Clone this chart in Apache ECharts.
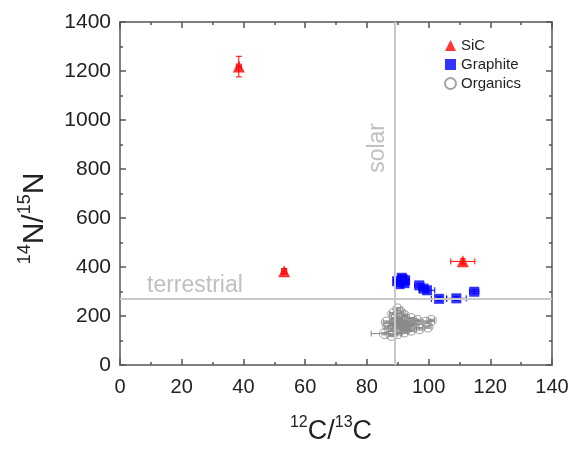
<!DOCTYPE html>
<html>
<head>
<meta charset="utf-8">
<title>N vs C isotope ratios</title>
<script src="https://cdn.jsdelivr.net/npm/echarts@6/dist/echarts.min.js"></script>
<style>
  html, body { margin: 0; padding: 0; background: #fff; }
  #container { width: 574px; height: 450px; }
</style>
</head>
<body>
<div id="container"></div>
<script type="text/javascript">
// SiC grains
var sicX    = [38.5, 53.2, 111.1];
var sicY    = [1218, 383, 423];
var sicXErr = [0.8, 0.8, 3.9];
var sicYErr = [42, 10, 10];

// graphite grains
var graphiteX    = [89.8, 91.3, 92.4, 90.6, 91.6, 92.2, 97.0, 98.4, 99.5, 103.4, 109.0, 114.8];
var graphiteY    = [342, 356, 346, 330, 350, 334, 325, 312, 305, 270, 272, 299];
var graphiteXErr = [1.2, 1.2, 1.2, 1.2, 1.2, 1.2, 1.5, 1.5, 2.5, 2.5, 3.2, 1.5];
var graphiteYErr = [8, 8, 8, 8, 8, 8, 8, 8, 8, 8, 8, 8];

// organics
var organicsX    = [90.0, 88.4, 92.2, 86.3, 86.8, 94.4, 96.5, 99.2, 100.9, 99.8, 85.7, 87.9, 90.0, 92.2, 94.4, 97.1, 89.5, 91.1, 90.6, 89.0, 92.8, 87.9, 91.7, 94.4, 91.0,
                    90.2, 91.4, 92.6, 89.2, 90.4, 93.4, 88.6, 91.8, 95.6, 93.0];
var organicsY    = [229, 209, 202, 175, 155, 189, 182, 175, 182, 155, 128, 121, 128, 135, 142, 148, 169, 169, 189, 189, 162, 142, 148, 162, 215,
                    178, 182, 176, 160, 152, 172, 168, 158, 170, 150];
var organicsXErr = [1, 1, 1, 1, 1, 1, 1, 1, 1, 1, 4.3, 1, 1, 1, 1, 1, 1, 1, 1, 1, 1, 1, 1, 1, 1,
                    1, 1, 1, 1, 1, 1, 1, 1, 1, 1];
var organicsYErr = [5, 5, 5, 5, 5, 5, 5, 5, 5, 5, 5, 5, 5, 5, 5, 5, 5, 5, 5, 5, 5, 5, 5, 5, 5,
                    5, 5, 5, 5, 5, 5, 5, 5, 5, 5];

// reference values
var solarC = 89;
var terrestrialN = 272;

var xTicks = [0, 20, 40, 60, 80, 100, 120, 140];
var yTicks = [0, 200, 400, 600, 800, 1000, 1200, 1400];

var FONT = 'Liberation Sans';
var AXIS_COLOR = '#555';

function pts(xs, ys) {
    return xs.map(function (x, i) { return [x, ys[i]]; });
}
function errRows(xs, ys, xe, ye) {
    return xs.map(function (x, i) { return [x, ys[i], xe[i], ye[i]]; });
}

function errorBars(name, rows, color) {
    return {
        name: name,
        type: 'custom',
        data: rows,
        silent: true,
        z: 1,
        renderItem: function (params, api) {
            var x = api.value(0), y = api.value(1), xe = api.value(2), ye = api.value(3);
            var cap = 3;
            var kids = [];
            var st = { stroke: color, lineWidth: 1 };
            if (xe > 0) {
                var l = api.coord([x - xe, y]), r = api.coord([x + xe, y]);
                kids.push({ type: 'line', shape: { x1: l[0], y1: l[1], x2: r[0], y2: r[1] }, style: st });
                kids.push({ type: 'line', shape: { x1: l[0], y1: l[1] - cap, x2: l[0], y2: l[1] + cap }, style: st });
                kids.push({ type: 'line', shape: { x1: r[0], y1: r[1] - cap, x2: r[0], y2: r[1] + cap }, style: st });
            }
            if (ye > 0) {
                var b = api.coord([x, y - ye]), t = api.coord([x, y + ye]);
                kids.push({ type: 'line', shape: { x1: b[0], y1: b[1], x2: t[0], y2: t[1] }, style: st });
                kids.push({ type: 'line', shape: { x1: b[0] - cap, y1: b[1], x2: b[0] + cap, y2: b[1] }, style: st });
                kids.push({ type: 'line', shape: { x1: t[0] - cap, y1: t[1], x2: t[0] + cap, y2: t[1] }, style: st });
            }
            return { type: 'group', children: kids };
        }
    };
}

var frameAxis = {
    axisLine: { show: true, onZero: false, lineStyle: { color: AXIS_COLOR, width: 1.5 } },
    axisTick: { show: true, inside: true, length: 6, lineStyle: { color: AXIS_COLOR, width: 1.5 } },
    minorTick: { show: true, splitNumber: 2, length: 3, lineStyle: { color: AXIS_COLOR, width: 1.5 } },
    splitLine: { show: false },
    axisLabel: { show: false }
};

function plain(v) { return String(v); }

var dom = document.getElementById('container');
var myChart = echarts.init(dom);
var option = {
    animation: false,
    backgroundColor: '#fff',
    grid: { left: 120, right: 22, top: 22, bottom: 80 },
    legend: {
        orient: 'vertical',
        left: 439,
        top: 33,
        itemWidth: 11,
        itemHeight: 11,
        itemGap: 4,
        textStyle: { fontFamily: FONT, fontSize: 15, color: '#222' },
        data: ['SiC', 'Graphite', 'Organics']
    },
    xAxis: [
        Object.assign({}, frameAxis, {
            type: 'value', min: xTicks[0], max: xTicks[xTicks.length - 1], interval: 20,
            position: 'bottom',
            axisLabel: { show: true, fontFamily: FONT, fontSize: 20, color: '#222', margin: 12, formatter: plain },
            name: '{sup|12}{b|C/}{sup|13}{b|C}',
            nameLocation: 'middle',
            nameGap: 50,
            nameTextStyle: {
                padding: [0, 10, 0, 0],
                rich: {
                    b: { fontFamily: FONT, fontSize: 27, color: '#222', lineHeight: 30, verticalAlign: 'bottom' },
                    sup: { fontFamily: FONT, fontSize: 16, color: '#222', lineHeight: 30, verticalAlign: 'top' }
                }
            }
        }),
        Object.assign({}, frameAxis, {
            type: 'value', min: xTicks[0], max: xTicks[xTicks.length - 1], interval: 20,
            position: 'top'
        })
    ],
    yAxis: [
        Object.assign({}, frameAxis, {
            type: 'value', min: yTicks[0], max: yTicks[yTicks.length - 1], interval: 200,
            position: 'left',
            axisLabel: { show: true, fontFamily: FONT, fontSize: 21, color: '#222', margin: 9, formatter: plain },
            name: '{sup|14}{b|N/}{sup|15}{b|N}',
            nameLocation: 'middle',
            nameRotate: 90,
            nameGap: 70,
            nameTextStyle: {
                padding: [0, 50, 0, 0],
                rich: {
                    b: { fontFamily: FONT, fontSize: 30, color: '#222', lineHeight: 34, verticalAlign: 'bottom' },
                    sup: { fontFamily: FONT, fontSize: 18, color: '#222', lineHeight: 34, verticalAlign: 'top' }
                }
            }
        }),
        Object.assign({}, frameAxis, {
            type: 'value', min: yTicks[0], max: yTicks[yTicks.length - 1], interval: 200,
            position: 'right'
        })
    ],
    series: [
        errorBars('SiC err', errRows(sicX, sicY, sicXErr, sicYErr), '#ff0000'),
        errorBars('Graphite err', errRows(graphiteX, graphiteY, graphiteXErr, graphiteYErr), '#0000ff'),
        errorBars('Organics err', errRows(organicsX, organicsY, organicsXErr, organicsYErr), '#8a8a8a'),
        {
            name: 'Organics',
            type: 'scatter',
            symbol: 'circle',
            symbolSize: 10,
            z: 2,
            itemStyle: { color: 'rgba(255,255,255,0)', borderColor: '#8a8a8a', borderWidth: 1 },
            data: pts(organicsX, organicsY),
            markLine: {
                silent: true,
                symbol: 'none',
                animation: false,
                lineStyle: { color: '#c8c8c8', width: 2, type: 'solid' },
                data: [
                    {
                        xAxis: solarC,
                        label: {
                            show: true, formatter: 'solar', position: 'insideEndTop',
                            fontFamily: FONT, fontSize: 23, color: '#c0c0c0', padding: [0, 96, 0, 0]
                        }
                    },
                    {
                        yAxis: terrestrialN,
                        label: {
                            show: true, formatter: 'terrestrial', position: 'insideStartTop',
                            fontFamily: FONT, fontSize: 23, color: '#c0c0c0', padding: [0, 0, -4, 22]
                        }
                    }
                ]
            }
        },
        {
            name: 'Graphite',
            type: 'scatter',
            symbol: 'rect',
            symbolSize: 10,
            z: 3,
            itemStyle: { color: '#0000ff' },
            data: pts(graphiteX, graphiteY)
        },
        {
            name: 'SiC',
            type: 'scatter',
            symbol: 'triangle',
            symbolSize: 12,
            z: 3,
            itemStyle: { color: '#ff0000' },
            data: pts(sicX, sicY)
        }
    ]
};
myChart.setOption(option, true);
</script>
</body>
</html>
